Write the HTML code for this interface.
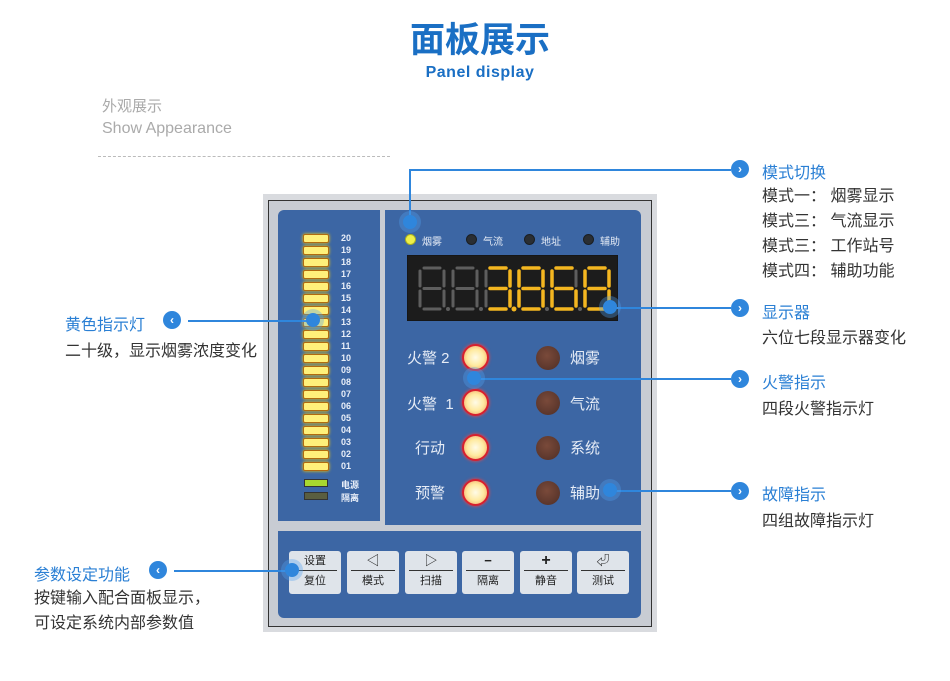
<!DOCTYPE html>
<html><head><meta charset="utf-8"><style>
*{margin:0;padding:0;box-sizing:border-box}
body{width:950px;height:681px;background:#fff;position:relative;overflow:hidden;font-family:"Liberation Sans","Noto Sans CJK SC",sans-serif}
.a{position:absolute;white-space:nowrap}
.blue{color:#2a7fd4}
.dk{color:#333}
.ic{position:absolute;width:18px;height:18px;border-radius:50%;background:#2f86dc;color:#fff;font-size:12px;line-height:18px;text-align:center;font-weight:bold}
.ln{position:absolute;background:#2f86dc;height:2px}
.dot{position:absolute;width:14px;height:14px;border-radius:50%;background:#2f86dc;box-shadow:0 0 0 4px rgba(80,160,240,.35)}
.bar{position:absolute;left:303px;width:26px;height:9px;border-radius:2px;background:#fff07a;border:1px solid #b06a10;box-shadow:0 0 3px #ffd000}
.num{position:absolute;left:341px;font-size:9px;font-weight:bold;color:#e8eef8}
.rl{position:absolute;width:27px;height:27px;border-radius:50%;border:2px solid #d8202e;background:radial-gradient(circle,#fffbe8 0%,#ffeaa0 50%,#f5b070 85%,#e05040 100%);box-shadow:0 0 3px #ff4040}
.bl{position:absolute;width:24px;height:24px;border-radius:50%;background:radial-gradient(circle at 45% 40%,#7a4a3a,#4e2e26)}
.lab{position:absolute;color:#e6ecf6;font-size:15px}
.btn{position:absolute;top:551px;width:52px;height:43px;background:#dfe4ea;border-radius:3px;font-size:11px;color:#222;text-align:center}
.btn .t{height:20px;line-height:20px;font-size:13px;border-bottom:1px solid #333;margin:0 4px}
.btn .b{line-height:20px}
.tl{position:absolute;width:11px;height:11px;border-radius:50%;background:#2a2e33;border:1px solid #1a1e22}
.tt{position:absolute;font-size:10px;color:#e6ecf6}
</style></head><body>
<div class="a blue" style="left:0;width:960px;text-align:center;top:12px;font-size:35px;font-weight:bold;color:#1a6fc4">面板展示</div>
<div class="a" style="left:0;width:960px;text-align:center;top:64px;font-size:16px;font-weight:bold;color:#1a6fc4;letter-spacing:.5px">Panel display</div>
<div class="a" style="left:102px;top:95px;font-size:15px;color:#aaa">外观展示</div>
<div class="a" style="left:102px;top:120px;font-size:16px;color:#aaa">Show Appearance</div>
<div class="a" style="left:98px;top:156px;width:292px;border-top:1px dashed #bbb"></div>

<div class="a" style="left:263px;top:194px;width:394px;height:438px;background:#d9dbdf"></div>
<div class="a" style="left:268px;top:200px;width:384px;height:427px;border:1px solid #333;background:#c8ccd3"></div>
<div class="a" style="left:278px;top:210px;width:102px;height:311px;background:#3c66a4;border-radius:6px 0 0 0"></div>
<div class="a" style="left:385px;top:210px;width:256px;height:315px;background:#3c66a4;border-radius:0 6px 0 0"></div>
<div class="a" style="left:278px;top:531px;width:363px;height:87px;background:#3c66a4;border-radius:0 0 6px 6px"></div>

<div class="bar" style="top:234px"></div><div class="num" style="top:233px">20</div>
<div class="bar" style="top:246px"></div><div class="num" style="top:245px">19</div>
<div class="bar" style="top:258px"></div><div class="num" style="top:257px">18</div>
<div class="bar" style="top:270px"></div><div class="num" style="top:269px">17</div>
<div class="bar" style="top:282px"></div><div class="num" style="top:281px">16</div>
<div class="bar" style="top:294px"></div><div class="num" style="top:293px">15</div>
<div class="bar" style="top:306px"></div><div class="num" style="top:305px">14</div>
<div class="bar" style="top:318px"></div><div class="num" style="top:317px">13</div>
<div class="bar" style="top:330px"></div><div class="num" style="top:329px">12</div>
<div class="bar" style="top:342px"></div><div class="num" style="top:341px">11</div>
<div class="bar" style="top:354px"></div><div class="num" style="top:353px">10</div>
<div class="bar" style="top:366px"></div><div class="num" style="top:365px">09</div>
<div class="bar" style="top:378px"></div><div class="num" style="top:377px">08</div>
<div class="bar" style="top:390px"></div><div class="num" style="top:389px">07</div>
<div class="bar" style="top:402px"></div><div class="num" style="top:401px">06</div>
<div class="bar" style="top:414px"></div><div class="num" style="top:413px">05</div>
<div class="bar" style="top:426px"></div><div class="num" style="top:425px">04</div>
<div class="bar" style="top:438px"></div><div class="num" style="top:437px">03</div>
<div class="bar" style="top:450px"></div><div class="num" style="top:449px">02</div>
<div class="bar" style="top:462px"></div><div class="num" style="top:461px">01</div>
<div class="a" style="left:304px;top:479px;width:24px;height:8px;background:#a8d830;border:1px solid #333"></div><div class="num" style="top:478px">电源</div>
<div class="a" style="left:304px;top:492px;width:24px;height:8px;background:#5a5e40;border:1px solid #333"></div><div class="num" style="top:491px">隔离</div>

<div class="tl" style="left:405px;top:234px;background:#eef04a;border-color:#aab020"></div><div class="tt" style="left:422px;top:233px">烟雾</div>
<div class="tl" style="left:466px;top:234px"></div><div class="tt" style="left:483px;top:233px">气流</div>
<div class="tl" style="left:524px;top:234px"></div><div class="tt" style="left:541px;top:233px">地址</div>
<div class="tl" style="left:583px;top:234px"></div><div class="tt" style="left:600px;top:233px">辅助</div>

<svg class="a" style="left:407px;top:255px" width="211" height="66" viewBox="0 0 211 66">
<rect width="211" height="66" fill="#1c1c1c" stroke="#111"/>
<defs><g id="d8" fill="none" stroke-width="3" stroke-linecap="round">
<path d="M5 0H21M25 3V18M25 23V38M5 41H21M1 23V38M1 3V18M5 20.5H21"/></g></defs>
<g stroke="#5e5e5e"><use href="#d8" x="12" y="13"/><use href="#d8" x="45" y="13"/><use href="#d8" x="78" y="13"/><use href="#d8" x="111" y="13"/><use href="#d8" x="144" y="13"/><use href="#d8" x="177" y="13"/></g>
<g fill="#5e5e5e"><circle cx="41" cy="54" r="2"/><circle cx="74" cy="54" r="2"/><circle cx="140" cy="54" r="2"/><circle cx="173" cy="54" r="2"/></g>
<g fill="none" stroke="#f4b620" stroke-width="3.5" stroke-linecap="round">
<path transform="translate(78,13)" d="M5 0H21M25 3V18M25 23V38M5 41H21M5 20.5H21"/>
<path transform="translate(111,13)" d="M5 0H21M25 3V18M25 23V38M5 41H21M1 23V38M1 3V18M5 20.5H21"/>
<path transform="translate(144,13)" d="M5 0H21M25 23V38M5 41H21M1 23V38M1 3V18M5 20.5H21"/>
<path transform="translate(177,13)" d="M5 0H21M25 3V18M25 23V38M5 41H21M1 23V38M1 3V18M5 20.5H21"/>
</g><circle cx="107" cy="54" r="2.5" fill="#f4b620"/>
</svg>

<div class="lab" style="left:407px;top:347px">火警 2</div><div class="rl" style="left:462px;top:344px"></div>
<div class="lab" style="left:407px;top:393px">火警&nbsp; 1</div><div class="rl" style="left:462px;top:389px"></div>
<div class="lab" style="left:415px;top:437px">行动</div><div class="rl" style="left:462px;top:434px"></div>
<div class="lab" style="left:415px;top:482px">预警</div><div class="rl" style="left:462px;top:479px"></div>
<div class="bl" style="left:536px;top:346px"></div><div class="lab" style="left:570px;top:347px">烟雾</div>
<div class="bl" style="left:536px;top:391px"></div><div class="lab" style="left:570px;top:393px">气流</div>
<div class="bl" style="left:536px;top:436px"></div><div class="lab" style="left:570px;top:437px">系统</div>
<div class="bl" style="left:536px;top:481px"></div><div class="lab" style="left:570px;top:482px">辅助</div>

<div class="btn" style="left:289px"><div class="t" style="font-size:11px">设置</div><div class="b">复位</div></div>
<div class="btn" style="left:347px"><div class="t">◁</div><div class="b">模式</div></div>
<div class="btn" style="left:405px"><div class="t">▷</div><div class="b">扫描</div></div>
<div class="btn" style="left:462px"><div class="t" style="font-weight:bold">−</div><div class="b">隔离</div></div>
<div class="btn" style="left:520px"><div class="t" style="font-weight:bold;font-size:16px">+</div><div class="b">静音</div></div>
<div class="btn" style="left:577px"><div class="t">⏎</div><div class="b">测试</div></div>

<div class="a" style="left:409px;top:169px;width:2px;height:52px;background:#2f86dc"></div>
<div class="ln" style="left:409px;top:169px;width:322px"></div>
<div class="dot" style="left:403px;top:215px"></div>
<div class="ln" style="left:612px;top:307px;width:119px"></div><div class="dot" style="left:603px;top:300px"></div>
<div class="ln" style="left:474px;top:378px;width:257px"></div><div class="dot" style="left:467px;top:371px"></div>
<div class="ln" style="left:610px;top:490px;width:121px"></div><div class="dot" style="left:603px;top:483px"></div>
<div class="ln" style="left:188px;top:320px;width:125px"></div><div class="dot" style="left:306px;top:313px"></div>
<div class="ln" style="left:174px;top:570px;width:118px"></div><div class="dot" style="left:285px;top:563px"></div>

<div class="ic" style="left:731px;top:160px">›</div>
<div class="ic" style="left:731px;top:299px">›</div>
<div class="ic" style="left:731px;top:370px">›</div>
<div class="ic" style="left:731px;top:482px">›</div>
<div class="ic" style="left:163px;top:311px">‹</div>
<div class="ic" style="left:149px;top:561px">‹</div>

<div class="a blue" style="left:762px;top:159px;font-size:16px">模式切换</div>
<div class="a dk" style="left:762px;top:184px;font-size:16px;line-height:25px">模式一： 烟雾显示<br>模式三： 气流显示<br>模式三： 工作站号<br>模式四： 辅助功能</div>
<div class="a blue" style="left:762px;top:299px;font-size:16px">显示器</div>
<div class="a dk" style="left:762px;top:324px;font-size:16px">六位七段显示器变化</div>
<div class="a blue" style="left:762px;top:369px;font-size:16px">火警指示</div>
<div class="a dk" style="left:762px;top:395px;font-size:16px">四段火警指示灯</div>
<div class="a blue" style="left:762px;top:481px;font-size:16px">故障指示</div>
<div class="a dk" style="left:762px;top:507px;font-size:16px">四组故障指示灯</div>
<div class="a blue" style="left:65px;top:311px;font-size:16px">黄色指示灯</div>
<div class="a dk" style="left:65px;top:337px;font-size:16px">二十级，显示烟雾浓度变化</div>
<div class="a blue" style="left:34px;top:561px;font-size:16px">参数设定功能</div>
<div class="a dk" style="left:34px;top:586px;font-size:16px;line-height:25px">按键输入配合面板显示，<br>可设定系统内部参数值</div>
</body></html>
